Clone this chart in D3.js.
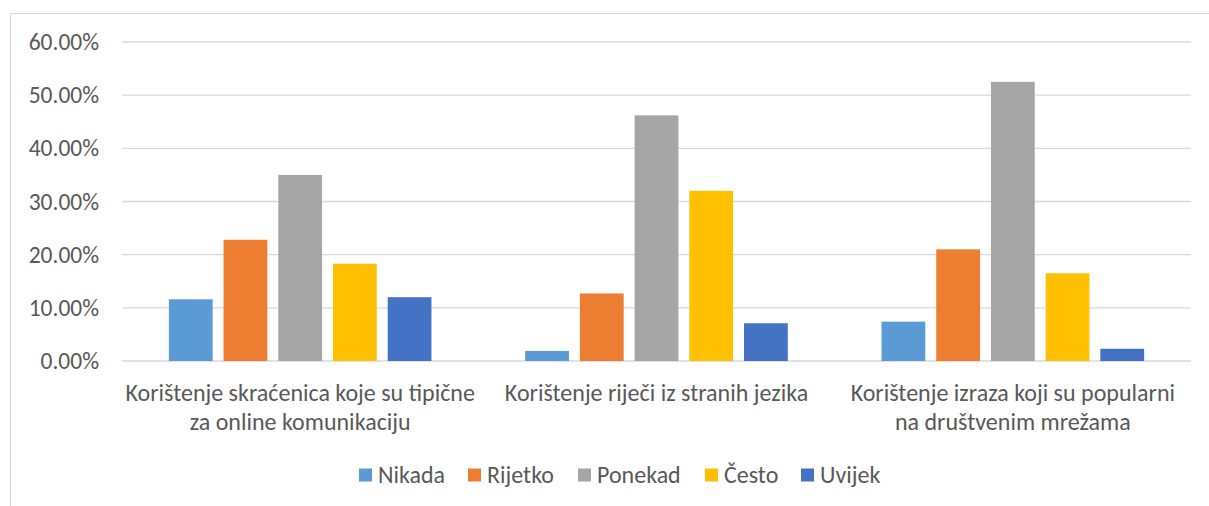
<!DOCTYPE html>
<html>
<head>
<meta charset="utf-8">
<script src="https://cdn.jsdelivr.net/npm/d3@7"></script>
<style>
  html, body { margin: 0; padding: 0; background: #fff; }
  svg text { font-family: Calibri, Carlito, Lato, sans-serif; fill: #595959; }
</style>
</head>
<body>
<svg id="chart" width="1209" height="506"></svg>
<script>
const categories = [
  "Korištenje skraćenica koje su tipične\nza online komunikaciju",
  "Korištenje riječi iz stranih jezika",
  "Korištenje izraza koji su popularni\nna društvenim mrežama"
];
const seriesNames = ["Nikada", "Rijetko", "Ponekad", "Često", "Uvijek"];
const seriesColors = ["#5B9BD5", "#ED7D31", "#A5A5A5", "#FFC000", "#4472C4"];
// one array per series, values in the order of categories
const nikada  = [0.116, 0.019, 0.074];
const rijetko = [0.228, 0.127, 0.210];
const ponekad = [0.350, 0.462, 0.525];
const cesto   = [0.183, 0.320, 0.165];
const uvijek  = [0.120, 0.071, 0.023];
const yTicks = [0, 0.1, 0.2, 0.3, 0.4, 0.5, 0.6];

const seriesValues = [nikada, rijetko, ponekad, cesto, uvijek];

const width = 1209, height = 506;
const margin = {left: 122, right: 18, top: 42, bottom: 145};

const svg = d3.select("#chart");

// chart frame (left and top edges visible)
svg.append("path")
  .attr("d", `M10.5,${height} V13.5 H${width}`)
  .attr("fill", "none")
  .attr("stroke", "#d9d9d9")
  .attr("stroke-width", 1);

const x0 = d3.scaleBand()
  .domain(categories)
  .range([margin.left, width - margin.right])
  .paddingInner(0.2324)
  .paddingOuter(0.1162);

const x1 = d3.scaleBand()
  .domain(seriesNames)
  .range([0, x0.bandwidth()])
  .paddingInner(0.2)
  .paddingOuter(0.1);

const y = d3.scaleLinear()
  .domain([0, 0.6])
  .range([height - margin.bottom, margin.top]);

const color = d3.scaleOrdinal().domain(seriesNames).range(seriesColors);

// gridlines
svg.append("g")
  .selectAll("line")
  .data(yTicks)
  .enter()
  .append("line")
    .attr("x1", margin.left)
    .attr("x2", width - margin.right)
    .attr("y1", d => y(d))
    .attr("y2", d => y(d))
    .attr("stroke", "#d9d9d9")
    .attr("stroke-width", 1.3);

// y axis labels
const yAxis = d3.axisLeft(y)
  .tickValues(yTicks)
  .tickFormat(d3.format(".2%"))
  .tickSize(0)
  .tickPadding(23);

svg.append("g")
  .attr("transform", `translate(${margin.left},0)`)
  .call(yAxis)
  .call(g => g.select(".domain").remove())
  .selectAll("text")
    .attr("font-size", 23.5)
    .style("font-family", null);

// bars
const groups = svg.append("g")
  .selectAll("g")
  .data(categories)
  .enter()
  .append("g")
    .attr("transform", d => `translate(${x0(d)},0)`);

groups.selectAll("rect")
  .data((d, i) => seriesNames.map((s, j) => ({key: s, val: seriesValues[j][i]})))
  .enter()
  .append("rect")
    .attr("x", d => x1(d.key))
    .attr("y", d => y(d.val))
    .attr("width", x1.bandwidth())
    .attr("height", d => y(0) - y(d.val))
    .attr("fill", d => color(d.key));

// x axis labels
const xAxis = d3.axisBottom(x0).tickSize(0).tickPadding(0);
const xg = svg.append("g")
  .attr("transform", `translate(0,${y(0)})`)
  .call(xAxis)
  .call(g => g.select(".domain").remove());

xg.selectAll(".tick text").each(function(d) {
  const t = d3.select(this);
  const lines = d.split("\n");
  t.text(null).attr("font-size", 24).attr("y", 0).attr("dy", null);
  lines.forEach((ln, i) => {
    t.append("tspan")
      .attr("x", 0)
      .attr("y", 40 + i * 29)
      .text(ln);
  });
});

// legend
const legend = svg.append("g").attr("transform", "translate(0,475)");
const legendX = [359, 468, 578, 705, 801];
const items = legend.selectAll("g")
  .data(seriesNames)
  .enter()
  .append("g")
    .attr("transform", (d, i) => `translate(${legendX[i]},0)`);

items.append("rect")
  .attr("x", 0)
  .attr("y", -6.5)
  .attr("width", 13)
  .attr("height", 13)
  .attr("fill", d => color(d));

items.append("text")
  .attr("x", 19)
  .attr("y", 0)
  .attr("dy", "0.35em")
  .attr("font-size", 24)
  .text(d => d);
</script>
</body>
</html>
